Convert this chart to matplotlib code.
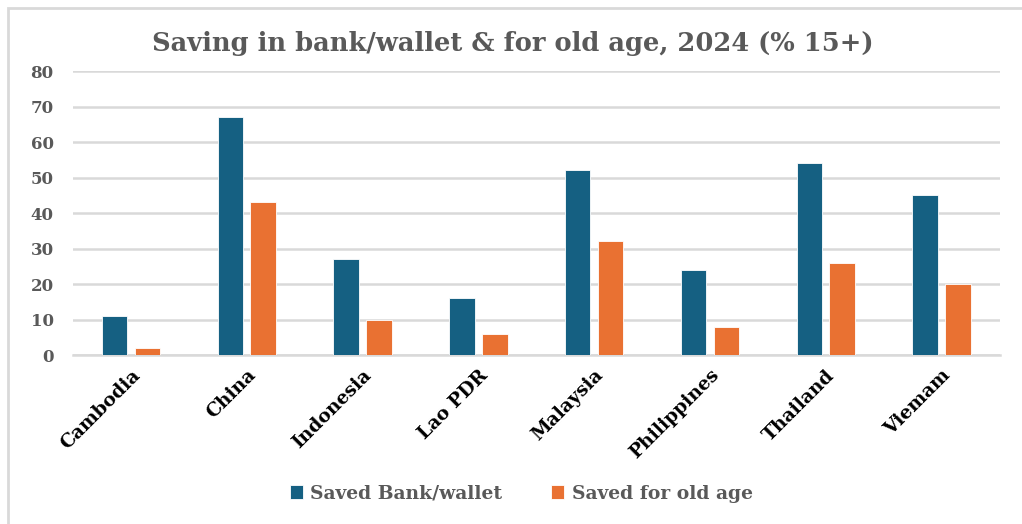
import numpy as np
import matplotlib.pyplot as plt
from matplotlib.patches import Rectangle

# Saving indicators by country, 2024 (% of population aged 15+)
countries = ["Cambodia", "China", "Indonesia", "Lao PDR", "Malaysia",
             "Philippines", "Thailand", "Viemam"]
saved_bank_wallet = [11, 67, 27, 16, 52, 24, 54, 45]
saved_old_age = [2, 43, 10, 6, 32, 8, 26, 20]

blue = "#156082"
orange = "#E97132"

plt.rcParams["font.family"] = ["DejaVu Serif", "Liberation Serif"]

fig = plt.figure(figsize=(10.22, 5.24), dpi=100)
ax = fig.add_axes([0.0714, 0.3225, 0.9066, 0.542])

# light frame around the whole chart area
fig.patches.append(Rectangle((0.008, -0.01), 1.0, 0.995, transform=fig.transFigure,
                             fill=False, edgecolor="#d9d9d9", linewidth=2))

x = np.arange(len(countries))
w = 0.22
ax.bar(x - 0.142, saved_bank_wallet, w, color=blue, edgecolor="white",
       linewidth=0.6, label="Saved Bank/wallet", zorder=3)
ax.bar(x + 0.142, saved_old_age, w, color=orange, edgecolor="white",
       linewidth=0.6, label="Saved for old age", zorder=3)

ax.set_xlim(-0.5, len(countries) - 0.5)
ax.set_ylim(0, 80)
ax.set_yticks(range(0, 81, 10))
ax.grid(axis="y", color="#d9d9d9", linewidth=1.8, zorder=0)
for s in ["top", "right", "left"]:
    ax.spines[s].set_visible(False)
ax.spines["bottom"].set_color("#d9d9d9")
ax.spines["bottom"].set_linewidth(1.8)
ax.tick_params(length=0)
ax.tick_params(axis="y", pad=14, labelsize=12, labelcolor="#595959")

ax.set_xticks(x)
ax.set_xticklabels(countries, rotation=45, ha="right", rotation_mode="anchor",
                   fontsize=13.5, fontweight="bold")
ax.tick_params(axis="x", pad=8)
for lbl in ax.get_yticklabels():
    lbl.set_fontweight("bold")

fig.text(0.502, 0.917, "Saving in bank/wallet & for old age, 2024 (% 15+)",
         ha="center", va="center", fontsize=18.5, fontweight="bold", color="#595959")

fig.legend(loc="center", bbox_to_anchor=(0.51, 0.058), ncol=2, frameon=False,
           handlelength=0.7, handleheight=0.7, handletextpad=0.4, columnspacing=2.6,
           prop={"size": 13.5, "weight": "bold"}, labelcolor="#595959")

fig.savefig("out.png", dpi=100)
